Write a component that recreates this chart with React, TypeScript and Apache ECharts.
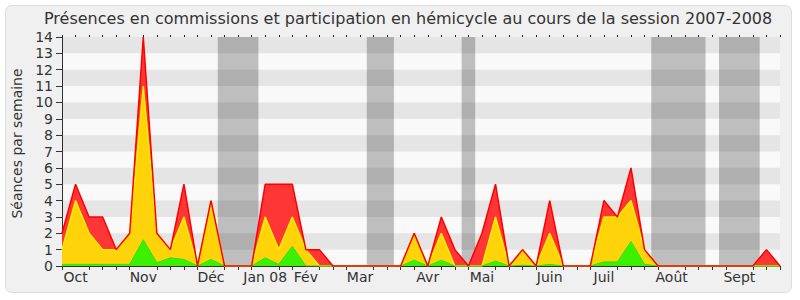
import React, { useEffect, useRef } from 'react';
import * as echarts from 'echarts';

const TITLE = 'Présences en commissions et participation en hémicycle au cours de la session 2007-2008';
const Y_NAME = 'Séances par semaine';

// one category per week; month names where the reference shows them
const weekLabels = [
  '', 'Oct', '', '', '', '', 'Nov', '', '', '', '', 'Déc', '', '', '', 'Jan 08', '', '', 'Fév', '', '',
  '', 'Mar', '', '', '', '', 'Avr', '', '', '', 'Mai', '', '', '', '', 'Juin', '', '', '', 'Juil', '',
  '', '', '', 'Août', '', '', '', '', 'Sept', '', '', '',
];

// red: total presences
const presences = [
  2, 5, 3, 3, 1, 2, 14, 2, 1, 5, 0, 4, 0, 0, 0, 5, 5, 5, 1, 1, 0,
  0, 0, 0, 0, 0, 2, 0, 3, 1, 0, 2, 5, 0, 1, 0, 4, 0, 0, 0, 4, 3,
  6, 1, 0, 0, 0, 0, 0, 0, 0, 0, 1, 0,
];

// yellow
const participations = [
  1, 4, 2, 1, 1, 2, 11, 2, 1, 3, 0, 4, 0, 0, 0, 3, 1, 3, 1, 0, 0,
  0, 0, 0, 0, 0, 2, 0, 2, 0, 0, 0, 3, 0, 1, 0, 2, 0, 0, 0, 3, 3,
  4, 1, 0, 0, 0, 0, 0, 0, 0, 0, 0, 0,
];

// green
const interventions = [
  0.1, 0.1, 0.1, 0.1, 0.1, 0.1, 1.6, 0.2, 0.5, 0.4, 0, 0.4, 0, 0, 0, 0.5, 0.1, 1.2, 0, 0, 0,
  0, 0, 0, 0, 0, 0.35, 0, 0.35, 0, 0, 0, 0.3, 0, 0.05, 0, 0.1, 0, 0, 0, 0.25, 0.25,
  1.5, 0.1, 0, 0, 0, 0, 0, 0, 0, 0, 0, 0,
];

// holiday periods, in week positions
const vacations: [number, number][] = [
  [11.5, 14.5], [22.5, 24.5], [29.5, 30.5], [43.5, 47.5], [48.5, 51.5],
];

const Y_MIN = 0;
const Y_MAX = 14;
const Y_STEP = 1;

const stripeBands: [number, number][] = [];
for (let v = Y_MIN + Y_STEP; v < Y_MAX; v += 2 * Y_STEP) stripeBands.push([v, v + Y_STEP]);

const FONT = 'DejaVu Sans';

export default function App() {
  const ref = useRef<HTMLDivElement>(null);

  useEffect(() => {
    if (!ref.current) return;
    const chart = echarts.init(ref.current, null, { renderer: 'svg' });
    chart.setOption({
      animation: false,
      backgroundColor: '#ffffff',
      textStyle: { fontFamily: FONT },
      graphic: [
        {
          type: 'rect',
          z: -10,
          silent: true,
          shape: { x: 5.5, y: 5.5, width: 786, height: 287, r: 6 },
          style: { fill: '#f0f0f0', stroke: '#dddddd', lineWidth: 1 },
        },
      ],
      title: {
        text: TITLE,
        left: 44,
        top: 10,
        padding: 0,
        textStyle: { fontFamily: FONT, fontSize: 16, fontWeight: 'normal', color: '#333333' },
      },
      grid: {
        left: 62,
        right: 20,
        top: 37,
        bottom: 34,
        show: true,
        backgroundColor: '#f9f9f9',
        borderWidth: 0,
      },
      xAxis: [
        {
          type: 'category',
          data: weekLabels,
          boundaryGap: false,
          position: 'bottom',
          axisLine: { show: true, lineStyle: { color: '#333333', width: 1 } },
          axisTick: {
            show: true,
            interval: (_i: number, v: string) => v === '',
            length: 4,
            lineStyle: { color: '#333333' },
          },
          axisLabel: { interval: 0, color: '#333333', fontSize: 14, fontFamily: FONT, margin: 4 },
          splitLine: { show: false },
        },
        {
          type: 'category',
          data: weekLabels,
          boundaryGap: false,
          position: 'top',
          axisLine: { show: false },
          axisTick: { show: true, interval: 0, length: 2, lineStyle: { color: '#222222' } },
          axisLabel: { show: false },
          splitLine: { show: false },
        },
        {
          type: 'value',
          min: 0,
          max: weekLabels.length - 1,
          show: false,
        },
      ],
      yAxis: {
        type: 'value',
        min: Y_MIN,
        max: Y_MAX,
        interval: Y_STEP,
        axisLine: { show: true, lineStyle: { color: '#333333' } },
        axisTick: { show: true, length: 6, lineStyle: { color: '#333333' } },
        axisLabel: { color: '#333333', fontSize: 14, fontFamily: FONT, margin: 9 },
        splitLine: { show: false },
        splitArea: { show: false },
        name: Y_NAME,
        nameLocation: 'middle',
        nameGap: 38,
        nameTextStyle: { fontSize: 14, fontFamily: FONT, color: '#333333', padding: [0, 0, 0, 16] },
      },
      series: [
        {
          type: 'line',
          xAxisIndex: 2,
          data: [],
          z: 1,
          silent: true,
          markArea: {
            silent: true,
            z: 1,
            itemStyle: { color: '#bebebe' },
            data: vacations.map(([a, b]) => [{ xAxis: a }, { xAxis: b }]),
          },
        },
        {
          type: 'line',
          xAxisIndex: 2,
          data: [],
          z: 1,
          silent: true,
          markArea: {
            silent: true,
            z: 1,
            itemStyle: { color: 'rgba(0,0,0,0.08)' },
            data: stripeBands.map(([a, b]) => [{ yAxis: a }, { yAxis: b }]),
          },
        },
        {
          type: 'line',
          data: presences,
          symbol: 'none',
          z: 3,
          lineStyle: { opacity: 0, width: 0 },
          areaStyle: { color: '#ff3636', opacity: 1 },
        },
        {
          type: 'line',
          data: participations,
          symbol: 'none',
          z: 4,
          lineStyle: { color: '#ffee00', width: 1.5 },
          areaStyle: { color: '#ffd30a', opacity: 1 },
        },
        {
          type: 'line',
          data: interventions,
          symbol: 'none',
          z: 5,
          lineStyle: { color: '#33e000', width: 1 },
          areaStyle: { color: '#3cf000', opacity: 1 },
        },
        {
          type: 'line',
          data: presences,
          symbol: 'none',
          z: 6,
          lineStyle: { color: '#ff0000', width: 1.5 },
        },
      ],
    });
    return () => chart.dispose();
  }, []);

  return (
    <div
      ref={ref}
      style={{ position: 'absolute', left: 0, top: 0, width: 800, height: 300 }}
    />
  );
}
